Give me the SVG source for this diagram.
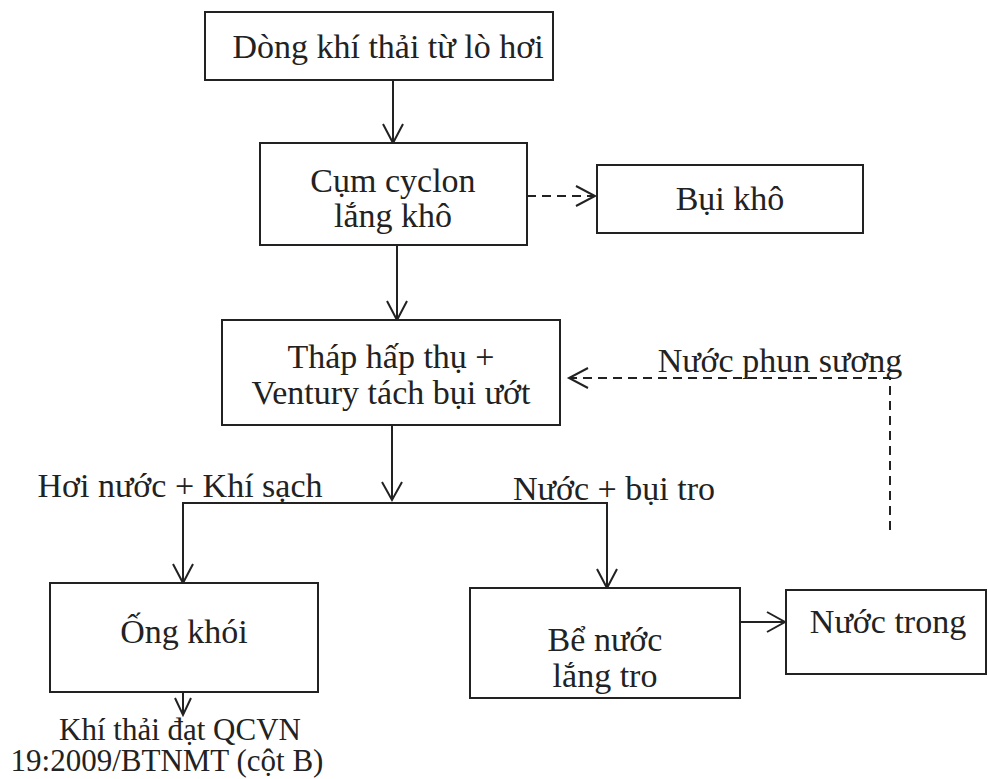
<svg xmlns="http://www.w3.org/2000/svg" width="988" height="779" viewBox="0 0 988 779">
<style>
.box{fill:#fff;stroke:#222;stroke-width:2}
.t{font-family:"Liberation Serif","Times New Roman",serif;font-size:34px;fill:#222;text-anchor:middle}
.s{font-size:31px}
.l{fill:none;stroke:#222;stroke-width:2}
.d{fill:none;stroke:#222;stroke-width:2;stroke-dasharray:9,6}
.ah{fill:none;stroke:#222;stroke-width:2}
</style>
<rect width="988" height="779" fill="#fff"/>
<g id="connectors">
<line class="l" x1="393" y1="80" x2="393" y2="143"/>
<polyline class="ah" points="383,124 393,143 403,124"/>
<line class="d" x1="527" y1="196" x2="594" y2="196"/>
<polyline class="ah" points="576,186 595,196 576,206"/>
<line class="l" x1="397" y1="245" x2="397" y2="320"/>
<polyline class="ah" points="387,301 397,320 407,301"/>
<polyline class="d" points="890,530 890,378 570,378"/>
<polyline class="ah" points="588,368 569,378 588,388"/>
<line class="l" x1="392" y1="425" x2="392" y2="500"/>
<polyline class="ah" points="382,482 392,500 402,482"/>
<polyline class="l" points="183,583 183,503 607,503 607,588"/>
<polyline class="ah" points="173,564 183,583 193,564"/>
<polyline class="ah" points="597,569 607,588 617,569"/>
<line class="l" x1="740" y1="622" x2="785" y2="622"/>
<polyline class="ah" points="767,612 785,622 767,632"/>
<line class="l" x1="183" y1="692" x2="183" y2="715"/>
<polyline class="ah" points="175,698 183,715 191,698"/>
</g>
<g id="n1"><rect class="box" x="205" y="12" width="348" height="68"/><text class="t" x="388" y="58">Dòng khí thải từ lò hơi</text></g>
<g id="n2"><rect class="box" x="260" y="143" width="267" height="102"/><text class="t" x="393" y="192">Cụm cyclon</text><text class="t" x="393" y="227">lắng khô</text></g>
<g id="n3"><rect class="box" x="597" y="165" width="266" height="68"/><text class="t" x="730" y="210">Bụi khô</text></g>
<g id="n4"><rect class="box" x="222" y="320" width="338" height="105"/><text class="t" x="391" y="368">Tháp hấp thụ +</text><text class="t" x="391" y="404">Ventury tách bụi ướt</text></g>
<g id="n5"><rect class="box" x="50" y="583" width="268" height="109"/><text class="t" x="184" y="643">Ống khói</text></g>
<g id="n6"><rect class="box" x="470" y="588" width="270" height="110"/><text class="t" x="605" y="651">Bể nước</text><text class="t" x="605" y="687">lắng tro</text></g>
<g id="n7"><rect class="box" x="786" y="590" width="200" height="84"/><text class="t" x="888" y="633">Nước trong</text></g>
<g id="labels">
<text class="t" x="780" y="372">Nước phun sương</text>
<text class="t" x="180" y="497">Hơi nước + Khí sạch</text>
<text class="t" x="614" y="500">Nước + bụi tro</text>
<text class="t s"><tspan x="180" y="740">Khí thải đạt QCVN</tspan><tspan x="167" y="771">19:2009/BTNMT (cột B)</tspan></text>
</g>
</svg>
